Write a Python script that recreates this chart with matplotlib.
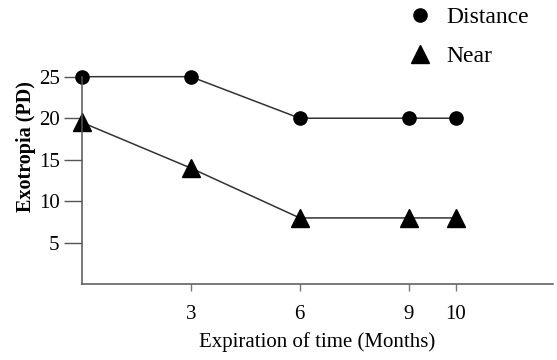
import numpy as np
import matplotlib
matplotlib.use("Agg")
import matplotlib.pyplot as plt
from matplotlib.lines import Line2D

months = [0, 3, 6, 9, 10]
distance = [25, 25, 20, 20, 20]
near = [19.5, 14, 8, 8, 8]
x_ticks = [3, 6, 9, 10]
y_ticks = [5, 10, 15, 20, 25]

plt.rcParams['font.family'] = ['Liberation Serif', 'DejaVu Serif']

# the original stretches the gap between 9 and 10 months
def fwd(x):
    x = np.asarray(x, dtype=float)
    return np.where(x <= 9, x, 9 + (x - 9) * 1.3)

def inv(x):
    x = np.asarray(x, dtype=float)
    return np.where(x <= 9, x, 9 + (x - 9) / 1.3)

fig = plt.figure(figsize=(5.57, 3.6), dpi=100)
ax = fig.add_axes([0.147, 0.21, 0.845, 0.577])
ax.set_xscale('function', functions=(fwd, inv))

ax.plot(months, distance, color='#333333', lw=1.1, marker='o', ms=9.5,
        mfc='black', mec='black', clip_on=False)
ax.plot(months, near, color='#333333', lw=1.1, marker='^', ms=13,
        mfc='black', mec='black', clip_on=False)

ax.set_xlim(0, 12.05)
ax.set_ylim(0, 25)
ax.set_xticks(x_ticks)
ax.set_xticklabels([str(t) for t in x_ticks])
ax.set_yticks(y_ticks)
ax.minorticks_off()

for s in ['top', 'right']:
    ax.spines[s].set_visible(False)
for s in ['left', 'bottom']:
    ax.spines[s].set_color('#555555')
    ax.spines[s].set_linewidth(1.1)

ax.tick_params(axis='y', direction='out', length=13, width=1, color='#555555',
               labelsize=15, pad=3)
ax.tick_params(axis='x', direction='out', length=5, width=1, color='#777777',
               labelsize=15, pad=10)

ax.set_xlabel('Expiration of time (Months)', fontsize=15, labelpad=6)
ax.set_ylabel('Exotropia (PD)', fontsize=14.5, fontweight='bold')
ax.yaxis.set_label_coords(-0.097, 0.665)

handles = [Line2D([], [], ls='none', marker='o', ms=9.5, color='black'),
           Line2D([], [], ls='none', marker='^', ms=13, color='black')]
fig.legend(handles, ['Distance', 'Near'], loc='upper left',
           bbox_to_anchor=(0.695, 1.041), frameon=False,
           fontsize=17, handlelength=1.0, handletextpad=0.6,
           labelspacing=0.75)

fig.savefig('out.png', dpi=100)
